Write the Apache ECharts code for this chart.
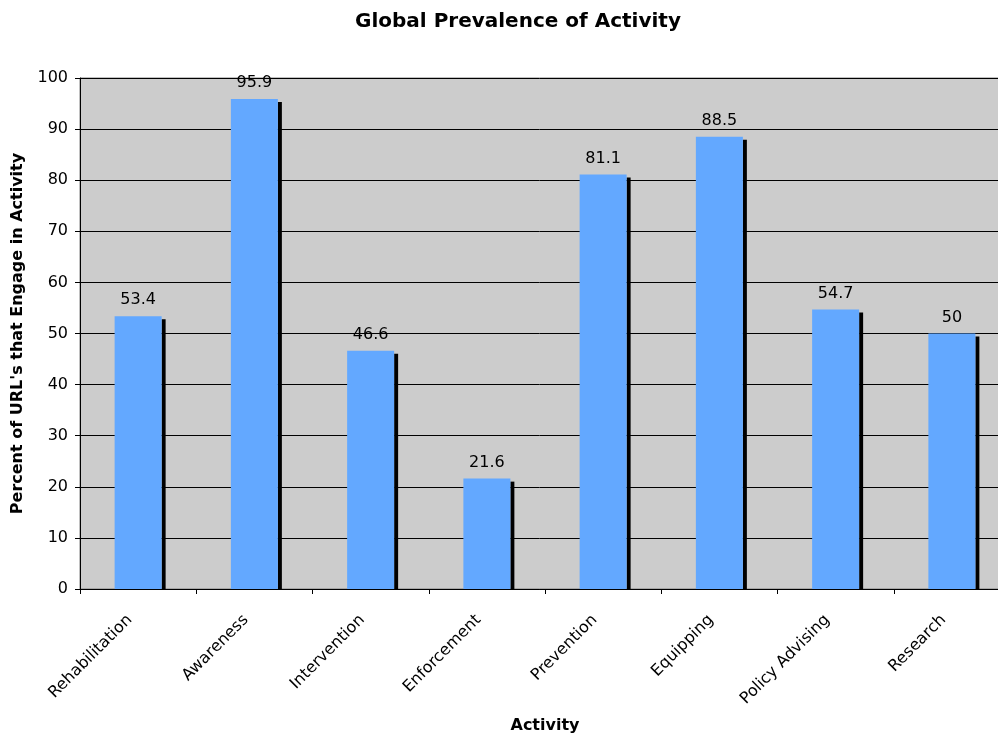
<!DOCTYPE html>
<html><head><meta charset="utf-8">
<script src="https://cdn.jsdelivr.net/npm/echarts@6/dist/echarts.min.js"></script>
<style>html,body{margin:0;padding:0;background:#fff}#c{width:998px;height:736px}</style>
</head><body><div id="c"></div>
<script>
const categories = ["Rehabilitation","Awareness","Intervention","Enforcement","Prevention","Equipping","Policy Advising","Research"];
const values = [53.4, 95.9, 46.6, 21.6, 81.1, 88.5, 54.7, 50];
const yTicks = {min: 0, max: 100, interval: 10};

const FONT = "DejaVu Sans";
const BAR_W = 47;
const chart = echarts.init(document.getElementById('c'), null, {renderer: 'canvas'});
chart.setOption({
  animation: false,
  backgroundColor: '#ffffff',
  title: {
    text: 'Global Prevalence of Activity',
    left: 350, top: 7,
    textStyle: {fontFamily: FONT, fontSize: 20, fontWeight: 'bold', color: '#000'}
  },
  grid: {left: 80, top: 78, bottom: 147, right: -12, outerBoundsMode: 'none', containLabel: false,
         show: true, backgroundColor: '#cccccc', borderColor: '#808080', borderWidth: 1},
  xAxis: {
    type: 'category', data: categories,
    name: 'Activity', nameLocation: 'middle', nameGap: 129,
    nameTextStyle: {fontFamily: FONT, fontSize: 16, fontWeight: 'bold', color: '#000'},
    axisLine: {lineStyle: {color: '#000', width: 1}},
    axisTick: {show: true, alignWithLabel: false, length: 5, lineStyle: {color: '#000'}},
    axisLabel: {rotate: 45, fontFamily: FONT, fontSize: 16, color: '#000', margin: 20, interval: 0, padding: [0, 12, 0, 0]}
  },
  yAxis: {
    type: 'value', min: yTicks.min, max: yTicks.max, interval: yTicks.interval,
    name: "Percent of URL's that Engage in Activity", nameLocation: 'middle', nameGap: 54,
    nameTextStyle: {fontFamily: FONT, fontSize: 16, fontWeight: 'bold', color: '#000'},
    axisLine: {show: true, lineStyle: {color: '#000', width: 1}},
    axisTick: {show: true, length: 5, lineStyle: {color: '#000'}},
    axisLabel: {fontFamily: FONT, fontSize: 16, color: '#000', margin: 12},
    splitLine: {show: true, lineStyle: {color: '#000', width: 1}}
  },
  series: [{
    type: 'custom', data: values, z: 1, silent: true,
    renderItem: function (params, api) {
      const top = api.coord([api.value(0), api.value(1)]);
      const base = api.coord([api.value(0), 0]);
      return {type: 'rect', shape: {x: top[0] + BAR_W / 2, y: top[1] + 3, width: 4, height: base[1] - top[1] - 3},
              style: {fill: '#000'}};
    },
    encode: {x: 0, y: 1}
  }, {
    type: 'bar', data: values, barWidth: BAR_W, z: 2,
    itemStyle: {color: '#63a8ff'},
    label: {show: true, position: 'top', distance: 8, fontFamily: FONT, fontSize: 16, color: '#000'}
  }]
});
</script></body></html>
